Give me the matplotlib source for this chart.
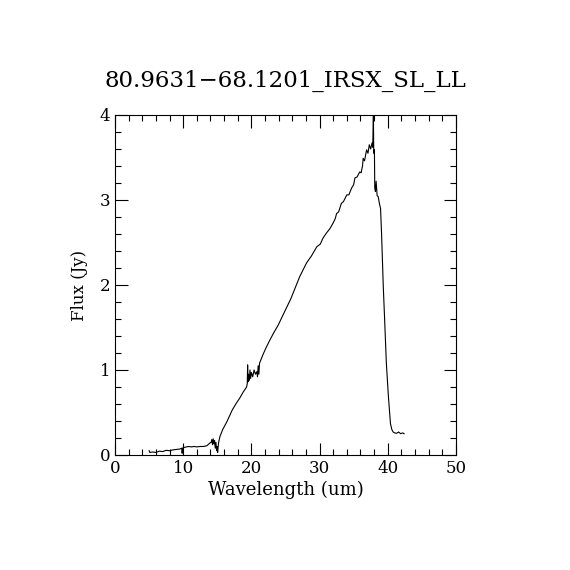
import matplotlib
matplotlib.use('Agg')
import matplotlib.pyplot as plt
from matplotlib.ticker import MultipleLocator

plt.rc('font', family='DejaVu Serif')

title = "80.9631\u221268.1201_IRSX_SL_LL"

# spectrum (wavelength in um, flux in Jy)
wave = [5.0, 5.1, 5.5, 6.0, 6.5, 7.0, 7.5, 8.0, 8.5, 9.0, 9.5, 9.8, 9.85, 9.9,
        10.2, 10.8, 11.2, 11.6, 12.0, 12.5, 13.0, 13.5, 13.9, 14.1, 14.2, 14.3,
        14.4, 14.5, 14.6, 14.7, 14.8, 14.9, 15.0, 15.05, 15.2, 15.4, 15.8, 16.4,
        17.2, 17.8, 18.3, 18.8, 19.3, 19.4, 19.45, 19.5, 19.6, 19.7, 19.8, 19.9,
        20.0, 20.2, 20.4, 20.6, 20.8, 20.9, 21.0, 21.1, 21.2, 21.3, 21.7, 22.2,
        22.7, 23.3, 23.95, 24.6, 25.2, 25.8, 26.4, 27.1, 27.6, 28.1, 28.8, 29.6,
        30.1, 30.5, 31.0, 31.5, 32.0, 32.3, 32.5, 32.8, 33.2, 33.5, 34.0, 34.3,
        34.7, 35.0, 35.2, 35.5, 35.9, 36.1, 36.3, 36.4, 36.6, 36.9, 37.1, 37.3,
        37.5, 37.7, 37.8, 37.9, 37.95, 38.05, 38.1, 38.2, 38.3, 38.45, 38.6,
        38.8, 38.95, 39.1, 39.35, 39.55, 39.8, 40.1, 40.4, 40.6, 40.8, 41.0,
        41.3, 41.6, 41.9, 42.2, 42.4]
flux = [0.05, 0.03, 0.035, 0.03, 0.045, 0.04, 0.055, 0.05, 0.06, 0.065, 0.07,
        0.08, 0.02, 0.08, 0.09, 0.1, 0.095, 0.1, 0.095, 0.1, 0.1, 0.11, 0.14,
        0.15, 0.18, 0.12, 0.19, 0.13, 0.17, 0.08, 0.15, 0.05, 0.1, 0.03, 0.15,
        0.22, 0.30, 0.39, 0.53, 0.61, 0.67, 0.74, 0.80, 0.84, 1.06, 0.86, 0.95,
        0.88, 1.0, 0.9, 0.97, 0.92, 1.0, 0.95, 0.98, 0.92, 1.05, 0.95, 1.08,
        1.10, 1.18, 1.27, 1.35, 1.44, 1.53, 1.64, 1.74, 1.84, 1.96, 2.10, 2.18,
        2.26, 2.34, 2.45, 2.48, 2.55, 2.61, 2.66, 2.73, 2.78, 2.84, 2.86, 2.96,
        2.98, 3.06, 3.06, 3.14, 3.18, 3.26, 3.27, 3.33, 3.32, 3.40, 3.49, 3.46,
        3.59, 3.55, 3.65, 3.60, 3.67, 3.62, 4.00, 3.55, 3.59, 3.14, 3.10, 3.22,
        3.05, 3.04, 2.95, 2.90, 2.60, 1.98, 1.59, 1.08, 0.69, 0.37, 0.30, 0.27,
        0.26, 0.255, 0.27, 0.25, 0.26, 0.25]

fig = plt.figure(figsize=(5.7, 5.7), dpi=100)
ax = fig.add_axes([0.2018, 0.2018, 0.598, 0.5965])
ax.plot(wave, flux, color='black', lw=0.8)

ax.set_xlim(0, 50)
ax.set_ylim(0, 4)
ax.xaxis.set_major_locator(MultipleLocator(10))
ax.xaxis.set_minor_locator(MultipleLocator(2))
ax.yaxis.set_major_locator(MultipleLocator(1))
ax.yaxis.set_minor_locator(MultipleLocator(0.2))
ax.tick_params(which='both', direction='in', top=True, right=True, labelsize=12)
ax.tick_params(which='major', length=9, width=0.8)
ax.tick_params(which='minor', length=4, width=0.8)
for s in ax.spines.values():
    s.set_linewidth(0.8)

ax.set_xlabel("Wavelength (um)", fontsize=13, labelpad=3)
ax.set_ylabel("Flux (Jy)", fontsize=12, labelpad=8)
ax.set_title(title, fontsize=16.5, pad=20)

plt.savefig("out.png", dpi=100)
